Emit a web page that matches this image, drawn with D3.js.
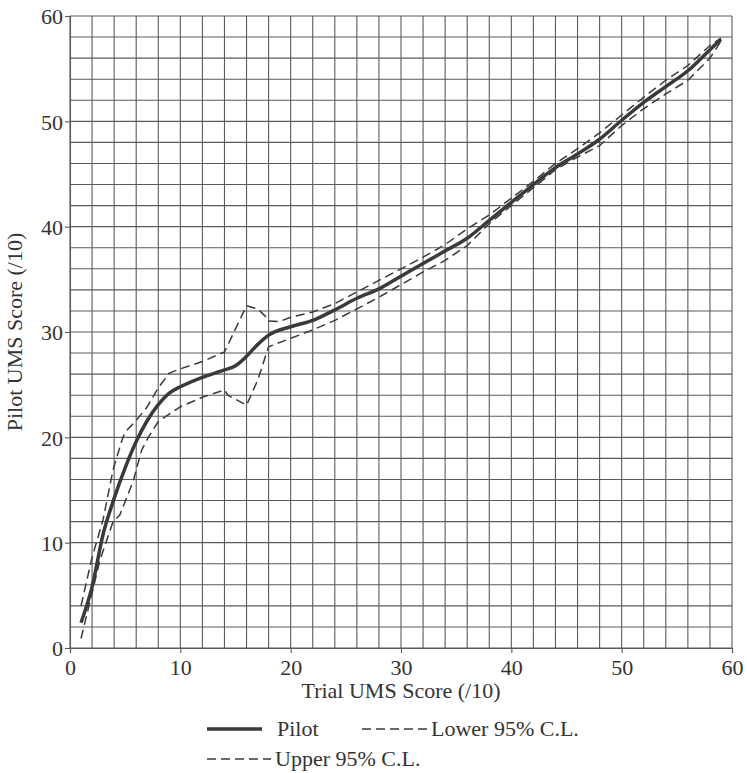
<!DOCTYPE html>
<html>
<head>
<meta charset="utf-8">
<script src="https://cdn.jsdelivr.net/npm/d3@7"></script>
<style>
  html, body { margin: 0; padding: 0; background: #fff; }
  svg { display: block; }
  text { font-family: "Liberation Serif", "DejaVu Serif", serif; fill: #333; }
</style>
</head>
<body>
<svg id="chart" width="747" height="773"></svg>
<script>
// ---- data ----
const pilotX = [1, 2, 3, 4, 5, 6, 7, 8, 9, 10, 12, 14, 15, 16, 17, 18, 20, 22, 24, 26, 28, 30, 32, 34, 36, 38, 40, 42, 44, 46, 48, 50, 52, 54, 56, 58, 59];
const pilotY = [2.4, 5.8, 10.8, 14.2, 17.1, 19.6, 21.6, 23.1, 24.2, 24.8, 25.7, 26.4, 26.8, 27.7, 28.8, 29.7, 30.5, 31.1, 32.1, 33.2, 34.1, 35.3, 36.5, 37.7, 38.9, 40.6, 42.3, 44.0, 45.6, 46.9, 48.3, 50.1, 51.8, 53.3, 54.8, 56.8, 57.8];

const upperX = [1, 2, 3, 3.9, 4.7, 5, 6, 7, 8, 9, 10, 12, 14, 16, 17, 17.8, 18, 19, 20, 22, 24, 26, 28, 30, 32, 34, 36, 38, 40, 42, 44, 46, 48, 50, 52, 54, 56, 58, 59];
const upperY = [4.0, 8.6, 12.2, 16.9, 19.7, 20.5, 21.6, 22.9, 24.7, 26.1, 26.5, 27.2, 28.1, 32.5, 32.2, 31.4, 31.05, 31.0, 31.4, 31.9, 32.7, 33.8, 34.9, 36.0, 37.1, 38.3, 39.8, 41.1, 42.7, 44.3, 46.0, 47.4, 48.9, 50.6, 52.3, 53.9, 55.3, 57.2, 57.9];

const lowerX = [1, 2, 2.7, 3.9, 4.5, 5, 5.74, 6.5, 7.1, 8, 10, 12, 14, 14.3, 16, 17, 18, 20, 22, 24, 26, 28, 30, 32, 34, 36, 38, 40, 42, 44, 46, 48, 50, 52, 54, 56, 58, 59];
const lowerY = [0.9, 5.2, 8.3, 12.0, 12.6, 13.9, 15.9, 18.8, 20.0, 21.5, 22.9, 23.8, 24.5, 24.0, 23.05, 25.4, 28.6, 29.4, 30.2, 31.1, 32.2, 33.3, 34.5, 35.7, 36.8, 38.2, 40.3, 42.0, 43.7, 45.4, 46.6, 47.7, 49.6, 51.2, 52.6, 53.9, 56.0, 57.6];

const tickValues = [0, 10, 20, 30, 40, 50, 60];
const gridValues = d3.range(0, 61, 2);
const xTitle = "Trial UMS Score (/10)";
const yTitle = "Pilot UMS Score (/10)";
const legendLabels = ["Pilot", "Lower 95% C.L.", "Upper 95% C.L."];

// ---- layout ----
const svg = d3.select("#chart");
const mLeft = 70, mRight = 732, mTop = 16, mBottom = 648;
const x = d3.scaleLinear().domain([0, 60]).range([mLeft, mRight]);
const y = d3.scaleLinear().domain([0, 60]).range([mBottom, mTop]);

const gridColor = "#5a5a5a";
const lineColor = "#3a3a3a";
const font = 22;

// grid
const g = svg.append("g");
g.selectAll(".vg").data(gridValues).enter().append("line")
  .attr("x1", d => x(d)).attr("x2", d => x(d))
  .attr("y1", y(0)).attr("y2", y(60))
  .attr("stroke", gridColor).attr("stroke-width", 1.1);
g.selectAll(".hg").data(gridValues).enter().append("line")
  .attr("x1", x(0)).attr("x2", x(60))
  .attr("y1", d => y(d)).attr("y2", d => y(d))
  .attr("stroke", gridColor).attr("stroke-width", 1.1);

// axes
const xAxis = d3.axisBottom(x).tickValues(tickValues).tickSize(5).tickPadding(6);
const yAxis = d3.axisLeft(y).tickValues(tickValues).tickSize(5).tickPadding(2);
const gx = svg.append("g").attr("transform", `translate(0,${mBottom})`).call(xAxis);
const gy = svg.append("g").attr("transform", `translate(${mLeft},0)`).call(yAxis);
[gx, gy].forEach(a => {
  a.selectAll("path").attr("stroke", gridColor).attr("stroke-width", 1.1);
  a.selectAll("line").attr("stroke", gridColor).attr("stroke-width", 1.1);
  a.selectAll("text").style("font-size", font + "px")
    .style("font-family", '"Liberation Serif", serif').attr("fill", "#333");
});
gy.selectAll("text").attr("dy", "0.35em");

// titles
svg.append("text").attr("x", (mLeft + mRight) / 2).attr("y", 698)
  .attr("text-anchor", "middle").style("font-size", font + "px").text(xTitle);
svg.append("text").attr("transform", `translate(22,${(mTop + mBottom) / 2}) rotate(-90)`)
  .attr("text-anchor", "middle").style("font-size", font + "px").text(yTitle);

// lines
const mk = (xs, ys) => xs.map((v, i) => [v, ys[i]]);
const lineSmooth = d3.line().x(d => x(d[0])).y(d => y(d[1])).curve(d3.curveMonotoneX);
const lineStraight = d3.line().x(d => x(d[0])).y(d => y(d[1])).curve(d3.curveLinear);

svg.append("path").datum(mk(upperX, upperY)).attr("d", lineStraight)
  .attr("fill", "none").attr("stroke", lineColor).attr("stroke-width", 1.5)
  .attr("stroke-dasharray", "9,5");
svg.append("path").datum(mk(lowerX, lowerY)).attr("d", lineStraight)
  .attr("fill", "none").attr("stroke", lineColor).attr("stroke-width", 1.5)
  .attr("stroke-dasharray", "9,5");
svg.append("path").datum(mk(pilotX, pilotY)).attr("d", lineSmooth)
  .attr("fill", "none").attr("stroke", lineColor).attr("stroke-width", 3.5)
  .attr("stroke-linejoin", "round");

// legend
const leg = svg.append("g");
leg.append("line").attr("x1", 207).attr("x2", 262).attr("y1", 729).attr("y2", 729)
  .attr("stroke", lineColor).attr("stroke-width", 3.5);
leg.append("text").attr("x", 277).attr("y", 736).style("font-size", font + "px").text(legendLabels[0]);
leg.append("line").attr("x1", 362).attr("x2", 427).attr("y1", 729).attr("y2", 729)
  .attr("stroke", lineColor).attr("stroke-width", 1.5).attr("stroke-dasharray", "9,5");
leg.append("text").attr("x", 431).attr("y", 736).style("font-size", font + "px").text(legendLabels[1]);
leg.append("line").attr("x1", 207).attr("x2", 271).attr("y1", 759).attr("y2", 759)
  .attr("stroke", lineColor).attr("stroke-width", 1.5).attr("stroke-dasharray", "9,5");
leg.append("text").attr("x", 275).attr("y", 766).style("font-size", font + "px").text(legendLabels[2]);
</script>
</body>
</html>
